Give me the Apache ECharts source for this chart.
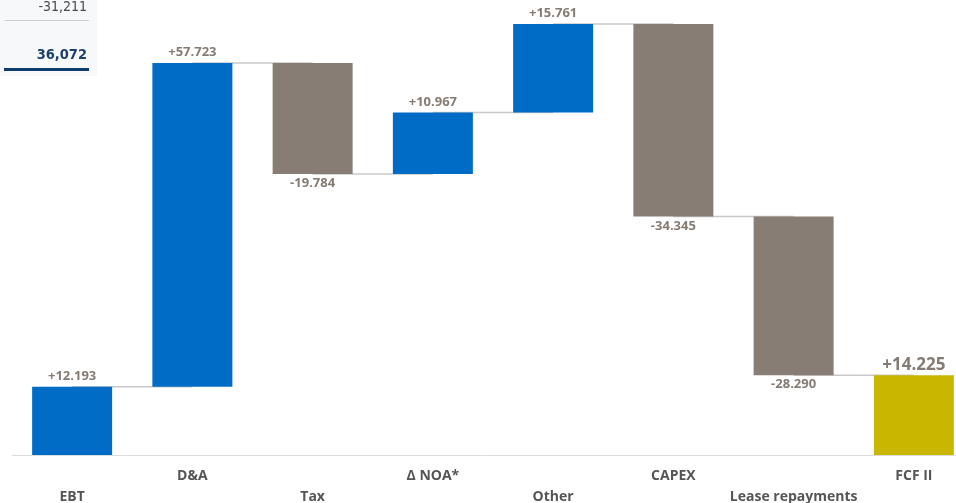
<!DOCTYPE html>
<html>
<head>
<meta charset="utf-8">
<style>
  html, body { margin: 0; padding: 0; background: #ffffff; }
  #chart { width: 956px; height: 503px; }
</style>
<script src="https://cdn.jsdelivr.net/npm/echarts@6/dist/echarts.min.js"></script>
</head>
<body>
<div id="chart"></div>
<script>
// Bridge from EBT to free cash flow (FCF II)
const categories = ['EBT', 'D&A', 'Tax', 'Δ NOA*', 'Other', 'CAPEX', 'Lease repayments', 'FCF II'];
const changes = [12.193, 57.723, -19.784, 10.967, 15.761, -34.345, -28.290];
const finalValue = [14.225];
// Side panel figures
const panelValues = ['-31,211', '36,072'];

const BLUE = '#006cc6';
const GREY = '#877d74';
const GOLD = '#c8b600';
const LABEL = '#857b73';

// Build floating segments: base (invisible) + visible height
const bases = [];
const heights = [];
const levels = []; // running total after each step
let run = 0;
changes.forEach(function (d) {
  const start = run;
  const end = run + d;
  bases.push(Math.min(start, end));
  heights.push({
    value: Math.abs(d),
    itemStyle: { color: d >= 0 ? BLUE : GREY },
    label: {
      show: true,
      position: d >= 0 ? 'top' : 'bottom',
      distance: d >= 0 ? 4 : 3,
      formatter: (d >= 0 ? '+' : '-') + Math.abs(d).toFixed(3)
    }
  });
  run = end;
  levels.push(end);
});
bases.push(0);
heights.push({
  value: finalValue[0],
  itemStyle: { color: GOLD },
  label: {
    show: true,
    position: 'top',
    distance: 2,
    fontSize: 17,
    formatter: '+' + finalValue[0].toFixed(3)
  }
});

const connectors = levels.map(function (v, i) { return [i, v]; });

const chart = echarts.init(document.getElementById('chart'), null, { renderer: 'canvas' });
chart.setOption({
  animation: false,
  backgroundColor: '#ffffff',
  grid: { left: 12, top: 6.4, width: 962, height: 448.6, containLabel: false, outerBoundsMode: 'none' },
  xAxis: {
    type: 'category',
    data: categories,
    axisLine: { show: true, lineStyle: { color: '#dcdcdc', width: 1 } },
    axisTick: { show: false },
    axisLabel: {
      interval: 0,
      margin: 11,
      fontFamily: 'Open Sans',
      fontWeight: 'bold',
      fontSize: 14,
      lineHeight: 21,
      color: '#555555',
      hideOverlap: false,
      formatter: function (v, i) { return i % 2 === 0 ? '\n' + v : v; }
    }
  },
  yAxis: {
    type: 'value',
    min: 0,
    max: 80,
    show: false,
    splitLine: { show: false }
  },
  graphic: [
    { type: 'rect', left: 0, top: 0, shape: { width: 97, height: 76 }, style: { fill: '#f7f8f9' }, z: 0 },
    { type: 'text', x: 87, y: 7, style: { text: panelValues[0], align: 'right', verticalAlign: 'middle', font: '14px "DejaVu Sans Condensed"', fill: '#4a4a4a' } },
    { type: 'line', shape: { x1: 5, y1: 20.5, x2: 89, y2: 20.5 }, style: { stroke: '#cfcfcf', lineWidth: 1 } },
    { type: 'text', x: 87, y: 55, style: { text: panelValues[1], align: 'right', verticalAlign: 'middle', font: 'bold 14.5px "DejaVu Sans Condensed"', fill: '#1c3f6e' } },
    { type: 'line', shape: { x1: 4, y1: 69.5, x2: 89, y2: 69.5 }, style: { stroke: '#0e3c6e', lineWidth: 3 } }
  ],
  series: [
    {
      type: 'custom',
      z: 1,
      silent: true,
      data: connectors,
      renderItem: function (params, api) {
        const i = api.value(0);
        const v = api.value(1);
        const p1 = api.coord([i, v]);
        const p2 = api.coord([i + 1, v]);
        return {
          type: 'line',
          shape: { x1: p1[0], y1: p1[1], x2: p2[0], y2: p2[1] },
          style: { stroke: '#c8c8c8', lineWidth: 1.5 }
        };
      }
    },
    {
      type: 'bar',
      stack: 'wf',
      z: 2,
      barWidth: 80,
      silent: true,
      itemStyle: { color: 'transparent' },
      data: bases
    },
    {
      type: 'bar',
      stack: 'wf',
      z: 3,
      barWidth: 80,
      label: {
        fontFamily: 'Open Sans',
        fontWeight: 'bold',
        fontSize: 13,
        color: LABEL
      },
      data: heights
    }
  ]
});
</script>
</body>
</html>
